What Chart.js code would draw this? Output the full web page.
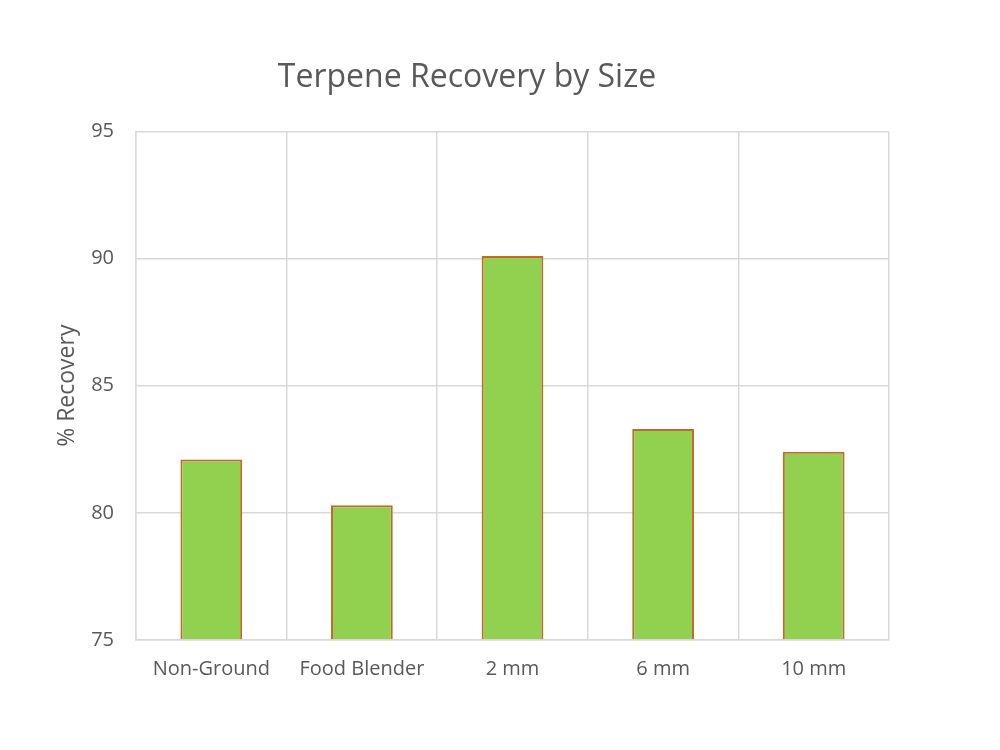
<!DOCTYPE html>
<html>
<head>
<meta charset="utf-8">
<script src="https://cdn.jsdelivr.net/npm/chart.js@4/dist/chart.umd.min.js"></script>
<style>
  body { margin: 0; background: #fff; }
  #wrap { width: 1000px; height: 750px; position: relative; }
</style>
</head>
<body>
<div id="wrap"><canvas id="chart"></canvas></div>
<script>
const categories = ["Non-Ground", "Food Blender", "2 mm", "6 mm", "10 mm"];
const recovery = [82.1, 80.3, 90.1, 83.3, 82.4];
const yTicks = [75, 80, 85, 90, 95];

const grey = "#595959";
const gridGrey = "#d9d9d9";
const font = "'Open Sans', 'Noto Sans', sans-serif";

const ctx = document.getElementById("chart").getContext("2d");

const chart = new Chart(ctx, {
  type: "bar",
  data: {
    labels: categories,
    datasets: [
      {
        label: "% Recovery",
        data: recovery,
        backgroundColor: "#92d050",
        borderColor: "#c4692b",
        borderWidth: 2,
        categoryPercentage: 1,
        barPercentage: 0.41,
        base: 75,
      },
    ],
  },
  options: {
    responsive: true,
    maintainAspectRatio: false,
    animation: false,
    layout: { padding: { left: 0, right: 66, top: 0, bottom: 0 } },
    plugins: {
      legend: { display: false },
      tooltip: { enabled: false },
      title: {
        display: true,
        text: "Terpene Recovery by Size",
        color: grey,
        font: { family: font, size: 32, weight: "normal" },
        padding: { top: 59, bottom: 34 },
      },
    },
    scales: {
      x: {
        grid: { color: gridGrey, drawTicks: false, lineWidth: 1.5 },
        border: { color: gridGrey, width: 1.5 },
        ticks: {
          color: grey,
          font: { family: font, size: 20 },
          padding: 17,
          maxRotation: 0,
        },
        afterFit: (s) => { s.height = 110; },
      },
      y: {
        min: 75,
        max: 95,
        afterBuildTicks: (s) => { s.ticks = yTicks.map((v) => ({ value: v })); },
        grid: { color: gridGrey, drawTicks: false, lineWidth: 1.5 },
        border: { color: gridGrey, width: 1.5 },
        ticks: {
          color: grey,
          font: { family: font, size: 20 },
          padding: 22,
        },
        title: {
          display: true,
          text: "% Recovery",
          color: grey,
          font: { family: font, size: 23 },
          padding: { top: 54, bottom: 0 },
        },
        afterFit: (s) => { s.width = 136; },
      },
      y2: {
        position: "right",
        display: true,
        grid: { display: false },
        border: { display: false },
        ticks: { display: false },
        afterFit: (s) => { s.width = 45; },
      },
    },
  },
});
</script>
</body>
</html>
